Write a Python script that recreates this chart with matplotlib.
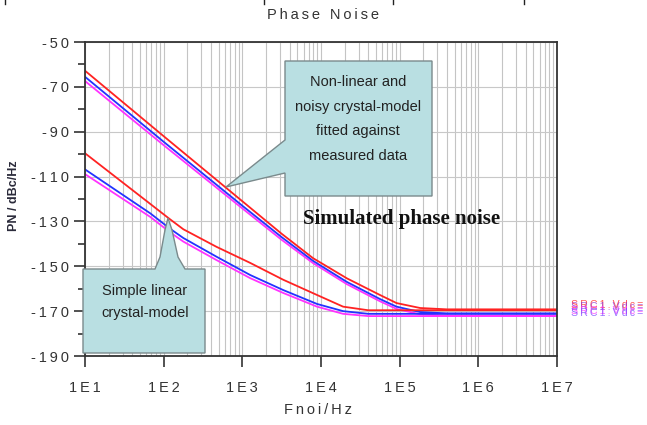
import matplotlib
matplotlib.use("Agg")
import matplotlib.pyplot as plt
from matplotlib.patches import Polygon
from matplotlib.lines import Line2D

# ---------------- data ----------------
# Non-linear / noisy crystal model (upper group)
f_upper = [10, 100, 1000, 3160, 7940, 21400, 56200, 91200, 182000, 398000, 1e7]
pn_upper_red = [-62.8, -92.0, -121.0, -135.5, -146.4, -155.4, -162.8, -166.4, -168.6, -169.2, -169.2]
pn_upper_blue = [-65.5, -94.5, -123.0, -137.0, -147.6, -157.0, -164.6, -168.0, -170.4, -171.0, -171.0]
pn_upper_mag = [-67.4, -96.0, -124.2, -138.2, -148.6, -158.0, -165.6, -169.0, -171.4, -172.0, -172.0]

# Simple linear crystal model (lower group)
f_lower = [10, 67.6, 120, 178, 468, 1260, 3310, 8910, 19100, 39800, 1e7]
pn_lower_red = [-99.6, -122.2, -129.0, -133.5, -141.3, -148.5, -156.0, -162.8, -168.0, -169.6, -169.6]
pn_lower_blue = [-106.8, -126.4, -133.2, -137.4, -145.7, -153.9, -160.6, -166.8, -170.0, -171.2, -171.2]
pn_lower_mag = [-108.9, -128.0, -134.8, -139.0, -147.2, -155.3, -161.9, -168.0, -171.2, -172.2, -172.2]

x_ticks = [1e1, 1e2, 1e3, 1e4, 1e5, 1e6, 1e7]
x_tick_labels = ["1E1", "1E2", "1E3", "1E4", "1E5", "1E6", "1E7"]
y_ticks = [-50, -70, -90, -110, -130, -150, -170, -190]

RED = "#ff2222"
BLUE = "#2233ff"
MAG = "#ff33ff"

W, H = 647, 425
fig = plt.figure(figsize=(W / 100, H / 100), dpi=100)
ax = fig.add_axes([85 / W, 1 - 356 / H, (557 - 85) / W, (356 - 42) / H])


def spaced(s):
    return "\u2009".join(s)


ax.set_xscale("log")
ax.set_xlim(1e1, 1e7)
ax.set_ylim(-190, -50)

# grid
ax.grid(True, which="both", axis="x", color="#c4c4c4", lw=0.8)
ax.grid(True, which="major", axis="y", color="#c8c8c8", lw=0.8)
ax.set_axisbelow(True)

# curves
for f, vals, c in [
    (f_upper, pn_upper_mag, MAG), (f_upper, pn_upper_blue, BLUE), (f_upper, pn_upper_red, RED),
    (f_lower, pn_lower_mag, MAG), (f_lower, pn_lower_blue, BLUE), (f_lower, pn_lower_red, RED),
]:
    ax.plot(f, vals, color=c, lw=1.3, solid_joinstyle="round")

# ticks
ax.set_xticks(x_ticks)
ax.set_xticklabels([spaced(t) for t in x_tick_labels])
ax.set_yticks(y_ticks)
ax.set_yticklabels([spaced(str(v)) for v in y_ticks])
ax.set_yticks(list(range(-180, -50, 20)), minor=True)
ax.tick_params(axis="both", which="major", direction="out", length=8, width=1.2,
               color="#333333", labelsize=10.5, labelcolor="#333333")
ax.tick_params(axis="y", which="minor", direction="out", length=5, width=1.2, color="#333333")
ax.tick_params(axis="x", which="minor", length=0)
ax.tick_params(axis="x", pad=10)
for lab in ax.get_xticklabels() + ax.get_yticklabels():
    lab.set_family("Liberation Sans")
for sp in ax.spines.values():
    sp.set_color("#333333")
    sp.set_linewidth(1.3)


def P(x, y):
    return (x / W, 1 - y / H)


# callout 1 (upper)
poly1 = [P(285, 61), P(432, 61), P(432, 196), P(285, 196), P(285, 173), P(226, 187), P(285, 140)]
fig.patches.append(Polygon(poly1, closed=True, transform=fig.transFigure, facecolor="#b9dfe2",
                           edgecolor="#7a8a8c", lw=1.0, zorder=5))
for i, t in enumerate(["Non-linear and", "noisy crystal-model", "fitted against", "measured data"]):
    fig.text(358 / W, 1 - (82 + 24.5 * i) / H, t, ha="center", va="center", fontsize=10.5,
             family="Liberation Sans", color="#222222", zorder=6)

# callout 2 (lower)
poly2 = [P(83, 269), P(155, 269), P(160, 257), P(165, 230), P(168, 218), P(172, 230), P(178, 257),
         P(185, 269), P(205, 269), P(205, 353), P(83, 353)]
fig.patches.append(Polygon(poly2, closed=True, transform=fig.transFigure, facecolor="#b9dfe2",
                           edgecolor="#7a8a8c", lw=1.0, zorder=5))
for i, t in enumerate(["Simple linear", "crystal-model"]):
    fig.text(145 / W, 1 - (291 + 22 * i) / H, t, ha="center", va="center", fontsize=10.5,
             family="Liberation Sans", color="#222222", zorder=6)

# Big label
fig.text(402 / W, 1 - 219 / H, "Simulated phase noise", ha="center", va="center", fontsize=15,
         family="Liberation Serif", weight="bold", color="#111111", zorder=6)

# title / axis labels
fig.text(323 / W, 1 - 15 / H, spaced("Phase Noise"), ha="center", va="center", fontsize=10.5,
         family="Liberation Sans", color="#333333")
fig.text(318 / W, 1 - 410 / H, spaced("Fnoi/Hz"), ha="center", va="center", fontsize=10.5,
         family="Liberation Sans", color="#333333")
fig.text(14 / W, 1 - 196 / H, "PN / dBc/Hz", ha="center", va="center", rotation=90, fontsize=9,
         family="Liberation Sans", weight="bold", color="#2a2a3a")

# right-hand trace labels (overlapping, as in the original)
for dy, c in [(305, RED), (307, "#9933cc"), (311, MAG), (313, "#7744ff")]:
    fig.text(571 / W, 1 - dy / H, spaced("SRC1.Vdc="), ha="left", va="center", fontsize=7.6,
             family="Liberation Sans", color=c, alpha=0.75)

# small top marks
for xm in [5, 264, 393, 524]:
    fig.add_artist(Line2D([xm / W, xm / W], [1, 1 - 4 / H], transform=fig.transFigure,
                          color="#222222", lw=1.0))

fig.savefig("out.png", dpi=100)
